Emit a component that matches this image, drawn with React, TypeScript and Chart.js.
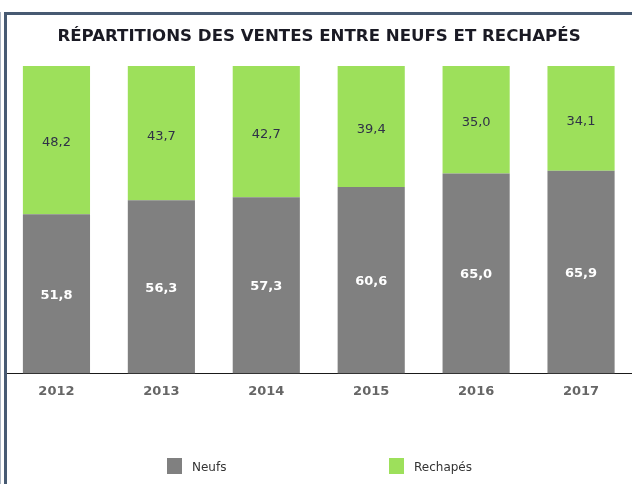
import React, { useEffect, useRef } from 'react';
import { Chart, registerables } from 'chart.js';

Chart.register(...registerables);

const years = ['2012', '2013', '2014', '2015', '2016', '2017'];
const neufs = [51.8, 56.3, 57.3, 60.6, 65.0, 65.9];
const rechapes = [48.2, 43.7, 42.7, 39.4, 35.0, 34.1];
const seriesLabels = ['Neufs', 'Rechapés'];
const chartTitle = 'RÉPARTITIONS DES VENTES ENTRE NEUFS ET RECHAPÉS';

const GREY = '#808080';
const GREEN = '#9de05b';
const BORDER = '#475a72';

const fmt = (v: number) => v.toFixed(1).replace('.', ',');

const decorPlugin = {
  id: 'decor',
  afterDatasetsDraw(chart: any) {
    const ctx = chart.ctx as CanvasRenderingContext2D;
    chart.data.datasets.forEach((ds: any, di: number) => {
      const meta = chart.getDatasetMeta(di);
      meta.data.forEach((el: any, i: number) => {
        const { x, y, base } = el.getProps(['x', 'y', 'base'], true);
        ctx.save();
        ctx.textAlign = 'center';
        ctx.textBaseline = 'middle';
        if (di === 0) {
          ctx.font = 'bold 13px "DejaVu Sans"';
          ctx.fillStyle = '#ffffff';
          ctx.fillText(fmt(ds.data[i]), x, (y + base) / 2 + 1.5);
        } else {
          ctx.font = '13px "DejaVu Sans"';
          ctx.fillStyle = '#2f3147';
          ctx.fillText(fmt(ds.data[i]), x, (y + base) / 2 + 3);
        }
        ctx.restore();
      });
    });
  },
  afterDraw(chart: any) {
    const ctx = chart.ctx as CanvasRenderingContext2D;
    ctx.save();
    // title
    let size = 16;
    ctx.font = `bold ${size}px "DejaVu Sans"`;
    const w = ctx.measureText(chartTitle).width;
    size = (size * 524) / w;
    ctx.font = `bold ${size.toFixed(2)}px "DejaVu Sans"`;
    ctx.fillStyle = '#1a1a24';
    ctx.textAlign = 'center';
    ctx.textBaseline = 'middle';
    ctx.fillText(chartTitle, 319, 37);

    // legend
    const boxX = [167, 389];
    chart.data.datasets.forEach((ds: any, di: number) => {
      ctx.fillStyle = ds.backgroundColor;
      ctx.fillRect(boxX[di], 458, 15, 16);
      ctx.font = '12px "DejaVu Sans"';
      ctx.fillStyle = '#333333';
      ctx.textAlign = 'left';
      ctx.textBaseline = 'middle';
      ctx.fillText(ds.label, boxX[di] + 25, 468);
    });

    // frame
    ctx.fillStyle = BORDER;
    ctx.fillRect(4, 12, 3, 484);
    ctx.fillRect(4, 12, 640, 3);
    ctx.fillStyle = '#a9b3c1';
    ctx.fillRect(0, 12, 1, 484);
    ctx.restore();
  },
};

export default function App() {
  const ref = useRef<HTMLCanvasElement | null>(null);

  useEffect(() => {
    document.body.style.margin = '0';
    const canvas = ref.current!;
    const chart = new Chart(canvas, {
      type: 'bar',
      data: {
        labels: years,
        datasets: [
          { label: seriesLabels[0], data: neufs, backgroundColor: GREY, borderWidth: 0 },
          { label: seriesLabels[1], data: rechapes, backgroundColor: GREEN, borderWidth: 0 },
        ],
      },
      options: {
        responsive: false,
        animation: false,
        devicePixelRatio: 1,
        layout: { padding: { left: 4, right: 6.5, top: 66, bottom: 75 } },
        plugins: {
          legend: { display: false },
          title: { display: false },
          tooltip: { enabled: false },
        },
        datasets: {
          bar: { categoryPercentage: 1, barPercentage: 0.64 },
        },
        scales: {
          x: {
            stacked: true,
            grid: { display: false, drawTicks: false },
            border: { display: true, color: '#1a1a1a', width: 1 },
            ticks: {
              padding: 10,
              color: '#666666',
              font: { family: '"DejaVu Sans"', size: 13, weight: 'bold' },
            },
          },
          y: {
            stacked: true,
            display: false,
            min: 0,
            max: 100,
          },
        },
      },
      plugins: [decorPlugin],
    });
    return () => chart.destroy();
  }, []);

  return (
    <div style={{ position: 'fixed', left: 0, top: 0, width: 632, height: 484, overflow: 'hidden', background: '#fff' }}>
      <canvas ref={ref} width={640} height={484} style={{ display: 'block', width: 640, height: 484 }} />
    </div>
  );
}
